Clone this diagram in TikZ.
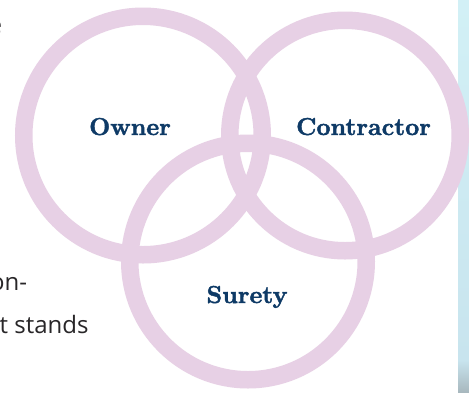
\documentclass[tikz,border=0pt]{standalone}
\usepackage{fontspec}
\newfontfamily\bodyfont{Open Sans}
\newfontfamily\labelfont[FakeBold=1.6]{lmroman10-bold.otf}
\definecolor{ringpink}{RGB}{231,208,229}
\definecolor{labelnavy}{RGB}{14,58,102}
\definecolor{bodygray}{RGB}{40,38,40}
\definecolor{stripblue}{RGB}{200,228,238}
\definecolor{stripgray}{RGB}{168,184,190}
\tikzset{
  ring/.style={circle, draw=ringpink, line width=17.5pt, inner sep=0pt, fill=none},
  vlabel/.style={text=labelnavy, font=\labelfont\fontsize{24.5}{28}\selectfont, anchor=base, inner sep=0pt},
  bodytext/.style={text=bodygray, font=\bodyfont\fontsize{24}{28}\selectfont, anchor=base west, inner sep=0pt}
}
\begin{document}
\begin{tikzpicture}[x=1pt,y=-1pt]
\useasboundingbox (0,0) rectangle (469,392);
\clip (0,0) rectangle (469,392);
\fill[white] (0,0) rectangle (469,392);
% right strip
\shade[top color=stripblue!90!cyan!60!white, bottom color=stripblue] (458,0) rectangle (469,360);
\shade[top color=stripblue, bottom color=stripgray] (458,360) rectangle (469,392);
% rings
\node[ring, minimum size=238.5pt] (owner) at (143,135.5) {};
\node[ring, minimum size=230.5pt] (contractor) at (345,135.5) {};
\node[ring, minimum size=236.5pt] (surety) at (248,261.5) {};
% labels
\node[vlabel] (ownerlbl) at (130,135) {Owner};
\node[vlabel] (contractorlbl) at (363.5,135) {Contractor};
\node[vlabel] (suretylbl) at (247,303) {Surety};
% cut-off body text on the left
\node[bodytext] (line0) at (-11.5,33) {e};
\node[bodytext] (line1) at (-10,290) {on-};
\node[bodytext] (line2) at (-0.5,333) {t stands};
\end{tikzpicture}
\end{document}
